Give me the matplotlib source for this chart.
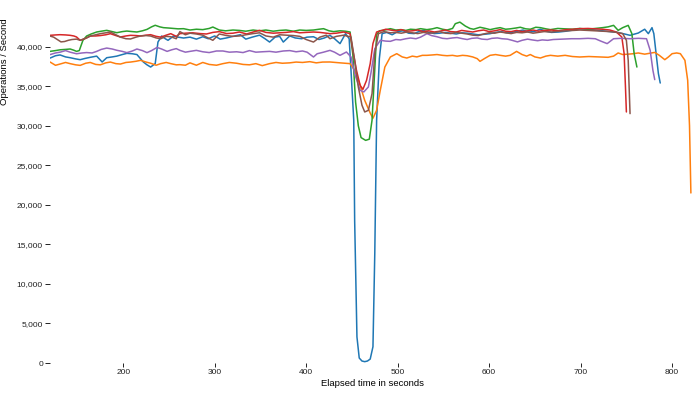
import matplotlib
matplotlib.use("Agg")
import matplotlib.pyplot as plt
from matplotlib.ticker import FuncFormatter

plt.rcParams['font.family'] = ['Liberation Sans', 'DejaVu Sans']

x_ticks = [200, 300, 400, 500, 600, 700, 800]
y_ticks = [0, 5000, 10000, 15000, 20000, 25000, 30000, 35000, 40000]
x_label = "Elapsed time in seconds"
y_label = "Operations / Second"

blue_t = [120, 126, 131, 137, 142, 148, 153, 158, 164, 171, 177, 182, 188, 193, 199, 204, 210, 215, 222, 226,
          230, 235, 238, 242, 246, 249, 255, 260, 266, 273, 280, 287, 293, 300, 306, 313, 320, 328, 334, 341,
          349, 355, 360, 366, 371, 375, 382, 388, 395, 401, 408, 414, 420, 426, 431, 437, 443, 447, 449, 452,
          453, 455.5, 458, 461, 464, 467, 470, 473, 475, 477, 480, 483, 488, 494, 500, 506, 512, 518, 522, 528,
          534, 540, 546, 552, 558, 564, 570, 576, 582, 588, 594, 601, 607, 613, 619, 625, 631, 637, 643, 649,
          656, 662, 668, 676, 684, 692, 699, 708, 716, 724, 732, 740, 748, 754, 763, 770, 774, 778, 780, 782.5,
          785, 787]
blue_v = [38550, 38850, 38950, 38700, 38600, 38450, 38350, 38500, 38650, 38800, 38060, 38600, 38700, 38800, 39000, 39150, 39100, 39000, 38060, 37700,
          37420, 37850, 40580, 41340, 41000, 40800, 41340, 41200, 41090, 41200, 40950, 41250, 41000, 41350, 40950, 41100, 41300, 41510, 40950, 41200,
          41450, 41000, 40580, 41200, 41300, 40580, 41350, 41100, 41000, 41200, 41250, 40900, 41100, 41430, 41000, 40380, 41640, 41000, 37000, 30700,
          18000, 3300, 630, 250, 170, 250, 500, 2060, 13900, 30700, 38500, 41640, 41800, 41500, 41900, 42000, 41700, 41650, 41850, 42060,
          41800, 41650, 41700, 41800, 41700, 41600, 41750, 41700, 41600, 41500, 41550, 41640, 41800, 41900, 41750, 41800, 41950, 42100, 41850, 41900,
          42200, 41950, 41800, 41850, 41950, 42100, 42270, 42200, 42100, 42000, 41900, 41800, 41600, 41430, 41720, 42200, 41640, 42400, 41640, 39110,
          36590, 35400]

orange_t = [120, 126, 131, 137, 142, 148, 153, 159, 164, 170, 175, 181, 186, 192, 197, 203, 208, 214, 219, 225,
            230, 236, 241, 247, 252, 258, 262, 268, 273, 280, 287, 294, 302, 309, 316, 324, 331, 338, 345, 352,
            360, 367, 374, 382, 389, 396, 404, 411, 418, 426, 437, 448, 453, 459, 464, 470, 473, 477, 481, 486,
            492, 499, 505, 510, 516, 521, 527, 532, 538, 543, 549, 554, 560, 565, 571, 576, 582, 587, 590, 595,
            601, 607, 612, 618, 623, 630, 636, 641, 645, 650, 656, 662, 667, 675, 683, 691, 699, 709, 720, 730,
            736, 741, 746, 752, 757, 763, 770, 775, 781, 786, 792, 796, 800, 805, 809, 814, 817, 819, 820.5]
orange_v = [38060, 37640, 37800, 38000, 37850, 37700, 37630, 37900, 38000, 37750, 37700, 37950, 38050, 37850, 37800, 38000, 38050, 38150, 38270, 38050,
            37900, 37650, 37850, 38000, 37850, 37700, 37720, 37650, 37950, 37650, 38000, 37750, 37650, 37850, 38000, 37900, 37750, 37700, 37850, 37600,
            37850, 38000, 37900, 37950, 38050, 38000, 38100, 37950, 38050, 38060, 37950, 37850, 37000, 35100, 33200, 31600, 30950, 31950, 34480, 37420,
            38690, 39110, 38700, 38560, 38800, 38700, 38900, 38900, 38950, 39000, 38900, 38850, 38900, 38800, 38900, 38850, 38700, 38480, 38140, 38500,
            38900, 39000, 38900, 38800, 38900, 39400, 39000, 38800, 39000, 38700, 38560, 38800, 38900, 38800, 38900, 38750, 38690, 38750, 38700, 38650,
            38800, 39200, 39000, 39050, 39100, 39200, 39050, 39150, 39270, 38900, 38350, 38700, 39110, 39200, 39110, 38270, 35740, 30000, 21500]

green_t = [120, 126, 131, 137, 142, 146, 149, 152, 156, 160, 165, 171, 176, 182, 188, 193, 199, 204, 210, 215,
           221, 226, 231, 235, 240, 244, 250, 255, 260, 266, 273, 280, 287, 294, 298, 305, 312, 320, 327, 334,
           342, 349, 356, 364, 371, 378, 386, 393, 400, 408, 414, 419, 425, 430, 437, 443, 448, 451, 454, 457,
           460, 465, 469, 472, 474, 477, 480, 486, 492, 498, 503, 509, 514, 520, 525, 532, 538, 543, 549, 554,
           560, 563, 568, 574, 579, 583, 590, 596, 601, 607, 612, 618, 623, 629, 634, 640, 645, 651, 656, 662,
           667, 675, 683, 691, 699, 708, 716, 724, 730, 736, 741, 746, 752, 756, 758.5, 761.5]
green_v = [39400, 39500, 39600, 39650, 39700, 39550, 39400, 39500, 40800, 41340, 41600, 41850, 41950, 42060, 41900, 41760, 41900, 41970, 41900, 41850,
           42000, 42180, 42500, 42700, 42500, 42400, 42350, 42300, 42250, 42270, 42100, 42200, 42150, 42300, 42480, 42100, 42000, 42100, 42050, 41950,
           42100, 42000, 42100, 41950, 42050, 42100, 41950, 42100, 42050, 42100, 42200, 42270, 42000, 41900, 42000, 41950, 41850, 39000, 33000, 30000,
           28500, 28150, 28300, 30700, 35000, 41500, 42000, 42100, 42270, 42100, 42150, 42050, 42200, 42150, 42270, 42150, 42250, 42400, 42200, 42100,
           42300, 42900, 43100, 42600, 42300, 42200, 42450, 42300, 42150, 42300, 42400, 42200, 42250, 42350, 42450, 42250, 42200, 42450, 42400, 42250,
           42150, 42300, 42250, 42200, 42300, 42200, 42300, 42400, 42500, 42690, 42060, 42400, 42690, 41640, 39110, 37420]

red_t = [120, 126, 131, 137, 142, 146, 149, 153, 158, 164, 170, 175, 181, 186, 192, 197, 203, 208, 214, 219,
         225, 230, 236, 241, 247, 252, 258, 262, 268, 276, 284, 291, 298, 305, 313, 320, 327, 335, 342, 349,
         356, 364, 371, 378, 386, 393, 400, 408, 415, 422, 426, 433, 441, 448, 451, 455, 459, 462, 466, 470,
         473, 477, 483, 487, 492, 498, 504, 510, 516, 522, 528, 534, 540, 546, 552, 558, 564, 570, 576, 582,
         588, 594, 600, 606, 612, 618, 624, 630, 636, 642, 648, 654, 660, 668, 676, 684, 692, 699, 708, 716,
         724, 732, 739, 745, 747.5, 749, 750]
red_v = [41430, 41480, 41510, 41480, 41430, 41350, 41220, 40800, 41000, 41340, 41350, 41400, 41500, 41640, 41400, 41220, 41350, 41430, 41400, 41350,
         41450, 41510, 41300, 41200, 41450, 41640, 41300, 41640, 41700, 41750, 41650, 41600, 41800, 41900, 41650, 41700, 41850, 41600, 41850, 42060,
         41800, 41700, 41750, 41800, 41900, 41750, 41800, 41850, 41800, 41700, 41640, 41700, 41850, 41640, 39530, 37000, 35100, 34600, 35740, 37850,
         40400, 41850, 42050, 42200, 42100, 42000, 42150, 41950, 42000, 42100, 41900, 42000, 41850, 41950, 42100, 41900, 41850, 42050, 41950, 41850,
         42000, 42100, 41900, 42000, 42150, 41950, 41900, 42050, 41900, 42000, 42100, 41950, 42050, 42100, 42000, 42150, 42200, 42270, 42300, 42250,
         42200, 42100, 41850, 41220, 39150, 34900, 31740]

purple_t = [120, 126, 131, 137, 142, 149, 155, 160, 166, 171, 176, 182, 188, 193, 199, 204, 210, 215, 221, 226,
            231, 237, 242, 248, 253, 258, 262, 268, 273, 280, 287, 294, 302, 309, 316, 324, 331, 338, 345, 352,
            360, 367, 375, 382, 389, 396, 401, 408, 412, 419, 426, 431, 437, 444, 449, 453, 459, 463, 468, 471,
            475, 481, 487, 492, 498, 503, 509, 514, 520, 525, 532, 537, 543, 549, 554, 560, 565, 571, 576, 581,
            587, 592, 598, 603, 609, 614, 620, 625, 631, 636, 642, 647, 653, 658, 664, 670, 680, 690, 699, 708,
            716, 722, 729, 736, 744, 754, 763, 772, 776, 779, 781]
purple_v = [38990, 39200, 39300, 39500, 39300, 39100, 39200, 39250, 39200, 39400, 39650, 39820, 39700, 39540, 39400, 39240, 39450, 39700, 39500, 39240,
            39500, 39900, 39700, 39400, 39600, 39750, 39530, 39300, 39400, 39530, 39350, 39250, 39450, 39450, 39300, 39350, 39250, 39500, 39300, 39350,
            39400, 39300, 39450, 39500, 39350, 39450, 39300, 38690, 39100, 39300, 39530, 39300, 38900, 39320, 38700, 36590, 34480, 34270, 34900, 36800,
            39740, 40800, 40700, 40670, 40900, 40850, 41000, 41090, 41000, 41200, 41640, 41400, 41250, 41050, 41000, 41100, 41150, 41000, 40900, 41050,
            41100, 40950, 40900, 41050, 41100, 41000, 40950, 40800, 40600, 40800, 40950, 40850, 40750, 40850, 40800, 40900, 40950, 41000, 41000, 41050,
            41000, 40700, 40380, 41000, 41050, 41000, 41050, 41000, 39530, 37000, 35830]

brown_t = [120, 124, 128, 132, 136, 140, 144, 149, 153, 156, 160, 164, 170, 175, 181, 186, 192, 197, 203, 208,
           214, 219, 225, 230, 236, 241, 247, 252, 258, 262, 268, 273, 280, 287, 291, 298, 305, 313, 320, 327,
           334, 342, 349, 356, 364, 371, 378, 386, 393, 400, 408, 415, 422, 426, 433, 441, 449, 453, 457, 461,
           464, 468, 472, 475, 479, 485, 492, 498, 504, 510, 516, 522, 528, 534, 540, 546, 552, 558, 564, 570,
           576, 582, 588, 594, 600, 606, 612, 618, 624, 630, 636, 642, 648, 654, 660, 668, 676, 684, 692, 699,
           708, 716, 724, 732, 740, 746, 750, 752, 754]
brown_v = [41340, 41200, 40900, 40600, 40650, 40800, 40900, 40950, 40800, 40930, 41100, 41340, 41500, 41640, 41750, 41850, 41500, 41200, 41000, 40970,
           41200, 41350, 41400, 41340, 41100, 41000, 41300, 41250, 41000, 41900, 41500, 41700, 41600, 41450, 41200, 40800, 41600, 41400, 41300, 41350,
           41500, 41650, 41750, 41350, 41200, 41500, 41450, 41400, 41300, 40900, 40580, 41200, 41450, 41000, 41300, 41450, 41200, 38270, 34900, 32590,
           31740, 31950, 34060, 39150, 41640, 41900, 41750, 41800, 41700, 41850, 41750, 41650, 41800, 41700, 41750, 41900, 41700, 41650, 41800, 41700,
           41600, 41450, 41400, 41600, 41750, 41700, 41850, 41750, 41650, 41800, 41750, 41850, 41700, 41800, 41900, 41850, 41950, 42000, 42050, 42100,
           42050, 42000, 41950, 41900, 41800, 41640, 40800, 38270, 31530]

series = [
    (blue_t, blue_v, "#1f77b4"),
    (orange_t, orange_v, "#ff7f0e"),
    (green_t, green_v, "#2ca02c"),
    (red_t, red_v, "#d62728"),
    (purple_t, purple_v, "#9467bd"),
    (brown_t, brown_v, "#8c564b"),
]

W, H = 700, 399
fig = plt.figure(figsize=(W / 100, H / 100), dpi=100)
ax = fig.add_axes([50 / W, 1 - 363 / H, 645 / W, 348 / H])

for t, v, c in series:
    ax.plot(t, v, color=c, lw=1.1, solid_joinstyle='round', solid_capstyle='round')

ax.set_xlim(120, 825)
ax.set_ylim(0, 44000)
ax.set_xticks(x_ticks)
ax.set_yticks(y_ticks)
ax.yaxis.set_major_formatter(FuncFormatter(lambda v, p: f"{int(v):,}"))
for s in ax.spines.values():
    s.set_visible(False)
ax.tick_params(axis='y', length=3.5, width=0.7, pad=1.6, labelsize=6, colors='#222222')
ax.tick_params(axis='x', length=3, width=0.7, pad=1.5, labelsize=6, colors='#222222')
ax.set_xlabel(x_label, fontsize=6.8, labelpad=2)
ax.set_ylabel(y_label, fontsize=6.8)
ax.yaxis.set_label_coords(-0.064, 0.865)

fig.savefig("out.png", dpi=100)
